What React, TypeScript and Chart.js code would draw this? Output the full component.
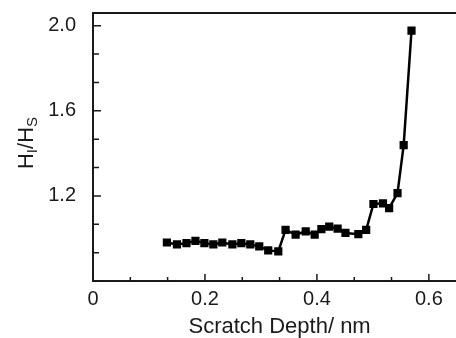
import { useEffect, useRef } from 'react';
import { Chart, registerables } from 'chart.js';

Chart.register(...registerables);

// Scratch depth (nm) and H_I/H_S ratio
const depth = [
  0.132, 0.150, 0.167, 0.183, 0.199, 0.215, 0.231, 0.249, 0.265, 0.281,
  0.297, 0.313, 0.331, 0.344, 0.362, 0.380, 0.396, 0.408, 0.422, 0.437,
  0.451, 0.474, 0.488, 0.501, 0.518, 0.529, 0.544, 0.555, 0.569,
];
const ratio = [
  0.981, 0.972, 0.978, 0.989, 0.978, 0.972, 0.981, 0.972, 0.978, 0.972,
  0.963, 0.944, 0.939, 1.040, 1.018, 1.033, 1.018, 1.044, 1.056, 1.046,
  1.026, 1.020, 1.040, 1.162, 1.165, 1.143, 1.213, 1.439, 1.977,
];

const xTickValues = [0, 0.0667, 0.1333, 0.2, 0.2667, 0.3333, 0.4, 0.4667, 0.5333, 0.6, 0.6667];
const xLabelValues = [0, 0.2, 0.4, 0.6];
const xLabelText = ['0', '0.2', '0.4', '0.6'];
const yTickValues = [0.8, 0.9333, 1.0667, 1.2, 1.3333, 1.4667, 1.6, 1.7333, 1.8667, 2.0];
const yLabelValues = [1.2, 1.6, 2.0];
const yLabelText = ['1.2', '1.6', '2.0'];
const xTitle = 'Scratch Depth/ nm';
const yTitleParts = [
  { text: 'H', sub: false },
  { text: 'I', sub: true },
  { text: '/H', sub: false },
  { text: 'S', sub: true },
];

const FONT = '"Liberation Sans", Arial, Helvetica, sans-serif';
const INK = '#1a1a1a';

function labelFor(values: number[], texts: string[], v: number): string {
  for (let i = 0; i < values.length; i++) {
    if (Math.abs(values[i] - v) < 1e-3) return texts[i];
  }
  return '';
}

const framePlugin = {
  id: 'frameTicks',
  beforeDatasetsDraw(chart: any) {
    const { ctx, chartArea } = chart;
    const { left, right, top, bottom } = chartArea;
    const xs = chart.scales.x;
    const ys = chart.scales.y;
    ctx.save();
    ctx.strokeStyle = INK;
    ctx.lineWidth = 2;
    ctx.beginPath();
    ctx.moveTo(right, top);
    ctx.lineTo(left, top);
    ctx.lineTo(left, bottom);
    ctx.lineTo(right, bottom);
    ctx.lineTo(right, top);
    ctx.stroke();
    ctx.lineWidth = 1.5;
    ctx.beginPath();
    xTickValues.forEach((v) => {
      const px = xs.getPixelForValue(v);
      const major = labelFor(xLabelValues, xLabelText, v) !== '';
      ctx.moveTo(px, bottom);
      ctx.lineTo(px, bottom - (major ? 7 : 4));
    });
    yTickValues.forEach((v) => {
      const py = ys.getPixelForValue(v);
      const major = labelFor(yLabelValues, yLabelText, v) !== '';
      ctx.moveTo(left, py);
      ctx.lineTo(left + (major ? 8 : 6), py);
    });
    ctx.stroke();
    ctx.restore();
  },
  afterDraw(chart: any) {
    const { ctx } = chart;
    ctx.save();
    ctx.fillStyle = INK;
    ctx.textBaseline = 'alphabetic';
    ctx.textAlign = 'left';
    const mainFont = `22px ${FONT}`;
    const subFont = `15px ${FONT}`;
    let total = 0;
    const widths = yTitleParts.map((p) => {
      ctx.font = p.sub ? subFont : mainFont;
      const w = ctx.measureText(p.text).width;
      total += w;
      return w;
    });
    ctx.translate(33, 143);
    ctx.rotate(-Math.PI / 2);
    let x = -total / 2;
    yTitleParts.forEach((p, i) => {
      ctx.font = p.sub ? subFont : mainFont;
      ctx.fillText(p.text, x, p.sub ? 4 : 0);
      x += widths[i];
    });
    ctx.restore();
  },
};

export default function App() {
  const ref = useRef<HTMLCanvasElement | null>(null);

  useEffect(() => {
    if (!ref.current) return;
    const points = depth.map((d, i) => ({ x: d, y: ratio[i] }));
    const chart = new Chart(ref.current, {
      type: 'line',
      data: {
        datasets: [
          {
            data: points,
            borderColor: '#000',
            borderWidth: 2.5,
            backgroundColor: '#000',
            pointStyle: 'rect',
            pointRadius: 5.8,
            pointBorderWidth: 0,
            pointBackgroundColor: '#000',
            tension: 0,
            fill: false,
          },
        ],
      },
      options: {
        animation: false,
        responsive: false,
        devicePixelRatio: 1,
        layout: { padding: { top: 13, right: 5, left: 0, bottom: 0 } },
        plugins: { legend: { display: false }, tooltip: { enabled: false } },
        scales: {
          x: {
            type: 'linear',
            min: 0,
            max: 0.6667,
            afterBuildTicks: (s: any) => {
              s.ticks = xTickValues.map((value) => ({ value }));
            },
            afterFit: (s: any) => {
              s.height = 57;
              s.paddingLeft = 0;
              s.paddingRight = 0;
            },
            grid: { display: false, drawTicks: false },
            border: { display: false },
            ticks: {
              autoSkip: false,
              maxRotation: 0,
              padding: 6,
              color: INK,
              font: { family: FONT, size: 20 },
              callback: (v: any) => labelFor(xLabelValues, xLabelText, Number(v)),
            },
            title: {
              display: true,
              text: xTitle,
              color: INK,
              font: { family: FONT, size: 22, lineHeight: 1 },
              padding: { top: 0, bottom: 0 },
            },
          },
          y: {
            type: 'linear',
            min: 0.8,
            max: 2.06,
            afterBuildTicks: (s: any) => {
              s.ticks = yTickValues.map((value) => ({ value }));
            },
            afterFit: (s: any) => {
              s.width = 93;
              s.paddingTop = 0;
              s.paddingBottom = 0;
            },
            grid: { display: false, drawTicks: false },
            border: { display: false },
            ticks: {
              autoSkip: false,
              padding: 17,
              color: INK,
              font: { family: FONT, size: 20 },
              callback: (v: any) => labelFor(yLabelValues, yLabelText, Number(v)),
            },
          },
        },
      },
      plugins: [framePlugin],
    });
    return () => chart.destroy();
  }, []);

  return (
    <div
      style={{
        position: 'absolute',
        left: 0,
        top: 0,
        width: 456,
        height: 338,
        overflow: 'hidden',
        background: '#fff',
      }}
    >
      <canvas ref={ref} width={472} height={338} style={{ display: 'block', width: 472, height: 338 }} />
    </div>
  );
}
